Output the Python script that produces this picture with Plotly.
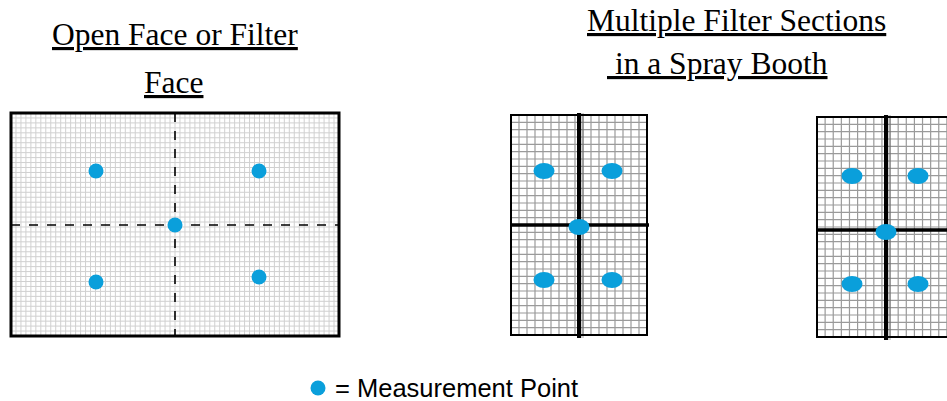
import numpy as np
import plotly.graph_objects as go

# ---- data (pixel-space layout of the diagram) ----
titles_left = ["Open Face or Filter", "Face"]
titles_right = ["Multiple Filter Sections", " in a Spray Booth"]
legend_label = "= Measurement Point"

# Open face panel: measurement points
open_x = [96, 259, 175, 96, 259]
open_y = [171, 171, 225, 282, 277]

# Filter section panel 1 and 2: measurement points
sec1_x = [544, 612, 579, 544, 612]
sec1_y = [171, 171, 227, 280, 280]
sec2_x = [852, 918, 886, 852, 918]
sec2_y = [176, 176, 232, 284, 284]

DOT = "#0A9FDB"

fig = go.Figure()
shapes = []

def grid_trace(x0, x1, y0, y1, nx, ny, color, width, dash="solid"):
    xs, ys = [], []
    for gx in np.linspace(x0, x1, nx + 1)[1:-1]:
        xs += [gx, gx, None]; ys += [y0, y1, None]
    for gy in np.linspace(y0, y1, ny + 1)[1:-1]:
        xs += [x0, x1, None]; ys += [gy, gy, None]
    fig.add_trace(go.Scatter(x=xs, y=ys, mode="lines", hoverinfo="skip",
                             line=dict(color=color, width=width, dash=dash),
                             showlegend=False))

# Panel 1: open face
L = dict(x0=11, x1=339, y0=113, y1=336)
grid_trace(L["x0"], L["x1"], L["y0"], L["y1"], 66, 45, "#d0d0d0", 1)
fig.add_trace(go.Scatter(x=[175, 175, None, L["x0"], L["x1"]],
                         y=[L["y0"], L["y1"], None, 225, 225],
                         mode="lines", hoverinfo="skip", showlegend=False,
                         line=dict(color="black", width=1.6, dash="dash")))
shapes.append(dict(type="rect", x0=L["x0"], x1=L["x1"], y0=L["y0"], y1=L["y1"],
                   line=dict(color="black", width=3)))

# Panel 2 / 3: filter sections
for P, cx, cy in [(dict(x0=511, x1=647, y0=115, y1=335), 579, 225),
                  (dict(x0=817, x1=955, y0=117, y1=337), 886, 230)]:
    grid_trace(P["x0"], P["x1"], P["y0"], P["y1"], 17, 30, "#9a9a9a", 1.2)
    shapes.append(dict(type="rect", x0=P["x0"], x1=P["x1"], y0=P["y0"], y1=P["y1"],
                       line=dict(color="black", width=2)))
    # soft shadow
    shapes.append(dict(type="line", x0=cx + 3, x1=cx + 3, y0=P["y0"] - 2, y1=P["y1"] + 3,
                       line=dict(color="rgba(0,0,0,0.18)", width=4)))
    shapes.append(dict(type="line", x0=cx, x1=cx, y0=P["y0"] - 2, y1=P["y1"] + 3,
                       line=dict(color="black", width=4)))
    shapes.append(dict(type="line", x0=P["x0"], x1=P["x1"] + 2, y0=cy, y1=cy,
                       line=dict(color="black", width=3.5)))

# Measurement points
fig.add_trace(go.Scatter(x=open_x, y=open_y, mode="markers", hoverinfo="skip",
                         marker=dict(size=15, color=DOT), showlegend=False))
for xs, ys in [(sec1_x, sec1_y), (sec2_x, sec2_y)]:
    for x, y in zip(xs, ys):
        shapes.append(dict(type="circle", x0=x - 10.5, x1=x + 10.5, y0=y - 8, y1=y + 8,
                           fillcolor=DOT, line=dict(width=0)))

# Legend marker
fig.add_trace(go.Scatter(x=[318], y=[388], mode="markers", hoverinfo="skip",
                         marker=dict(size=15, color=DOT), showlegend=False))

ann = []
serif = dict(family="Liberation Serif, Times New Roman, serif", size=31.5, color="black")
ann.append(dict(x=175, y=34, text="<u>%s</u>" % titles_left[0], font=serif))
ann.append(dict(x=173, y=82, text="<u>%s</u>" % titles_left[1], font=serif))
ann.append(dict(x=736, y=20, text="<u>%s</u>" % titles_right[0], font=serif))
ann.append(dict(x=717, y=63, text="<u>%s</u>" % titles_right[1], font=serif))
ann.append(dict(x=333, y=388, xanchor="left", text=legend_label,
                font=dict(family="Liberation Sans, Arial, sans-serif", size=25.5, color="black")))
for a in ann:
    a.update(xref="x", yref="y", showarrow=False, yanchor="middle")
    a.setdefault("xanchor", "center")

fig.update_layout(
    width=947, height=401, margin=dict(l=0, r=0, t=0, b=0),
    paper_bgcolor="white", plot_bgcolor="white",
    xaxis=dict(range=[0, 947], visible=False, fixedrange=True),
    yaxis=dict(range=[401, 0], visible=False, fixedrange=True),
    shapes=shapes, annotations=ann, showlegend=False,
)
fig.write_html("out.html", config={"displayModeBar": False, "staticPlot": True},
               post_script="document.body.style.margin='0';document.body.style.overflow='hidden';")
